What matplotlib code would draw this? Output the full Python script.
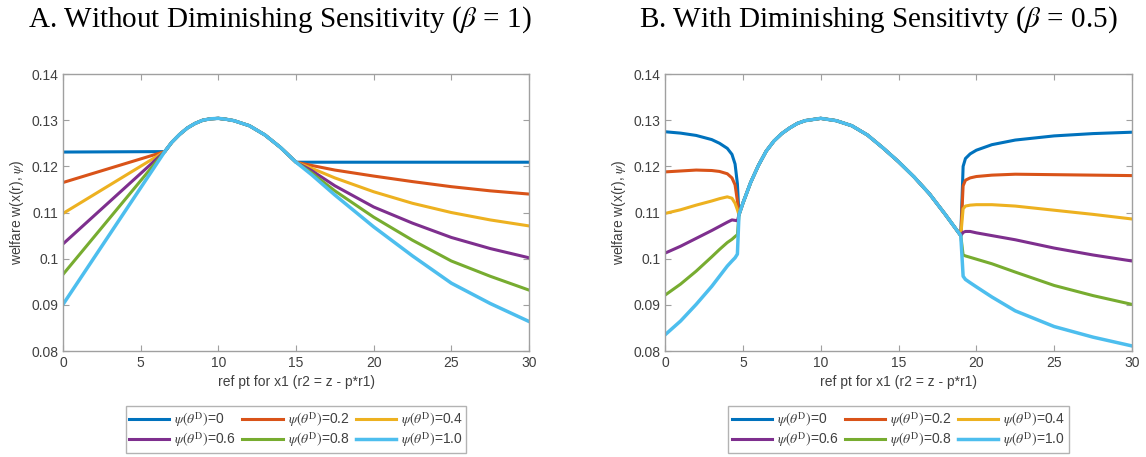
import numpy as np
import matplotlib.pyplot as plt
from matplotlib.ticker import FuncFormatter

plt.rcParams['font.family'] = ['Liberation Sans', 'DejaVu Sans']
plt.rcParams['mathtext.fontset'] = 'stix'

psi_labels = ['0', '0.2', '0.4', '0.6', '0.8', '1.0']
colors = ['#0072BD', '#D95319', '#EDB120', '#7E2F8E', '#77AC30', '#4DBEEE']

# ---- panel A (beta = 1) ----
a_x_left = [0.0]
a_left = [[0.1231], [0.1165], [0.1098], [0.1032], [0.0966], [0.0901]]
a_x_hump = [6.55, 7, 7.5, 8, 8.5, 9, 9.5, 10, 10.5, 11, 12, 13, 14, 15]
a_hump = [0.1232, 0.1252, 0.1269, 0.1283, 0.1293, 0.1300, 0.1303, 0.1304,
          0.1302, 0.1299, 0.1288, 0.1268, 0.1241, 0.1209]
a_x_right = [16, 17.5, 20, 22.5, 25, 27.5, 30]
a_right = [
    [0.1209, 0.1209, 0.1209, 0.1209, 0.1209, 0.1209, 0.1209],
    [0.1202, 0.1192, 0.1179, 0.1167, 0.1156, 0.1147, 0.1140],
    [0.1196, 0.1175, 0.1145, 0.1120, 0.1100, 0.1084, 0.1071],
    [0.1191, 0.1158, 0.1112, 0.1077, 0.1046, 0.1022, 0.1002],
    [0.1186, 0.1147, 0.1090, 0.1040, 0.0995, 0.0962, 0.0932],
    [0.1182, 0.1138, 0.1069, 0.1006, 0.0947, 0.0903, 0.0864],
]

# ---- panel B (beta = 0.5) ----
b_x_left = [0, 1, 2, 3, 3.5, 4, 4.3, 4.5, 4.65]
b_left = [
    [0.1275, 0.1272, 0.1267, 0.1258, 0.1250, 0.1239, 0.1226, 0.1205, 0.1162],
    [0.1188, 0.1190, 0.1192, 0.1191, 0.1189, 0.1184, 0.1175, 0.1160, 0.1125],
    [0.1098, 0.1106, 0.1116, 0.1125, 0.1130, 0.1134, 0.1131, 0.1120, 0.1106],
    [0.1012, 0.1027, 0.1044, 0.1061, 0.1070, 0.1079, 0.1084, 0.1083, 0.1082],
    [0.0921, 0.0945, 0.0973, 0.1004, 0.1020, 0.1035, 0.1042, 0.1048, 0.1052],
    [0.0835, 0.0865, 0.0901, 0.0940, 0.0962, 0.0984, 0.0995, 0.1002, 0.1010],
]
b_x_hump = [4.75, 5, 5.5, 6, 6.5, 7, 7.5, 8, 8.5, 9, 10, 11, 12, 13, 14,
            15, 16, 17, 18, 19]
b_hump = [0.1095, 0.1120, 0.1165, 0.1202, 0.1233, 0.1255, 0.1271, 0.1283,
          0.1293, 0.1299, 0.1304, 0.1299, 0.1288, 0.1268, 0.1240, 0.1210,
          0.1177, 0.1140, 0.1096, 0.1050]
b_x_right = [19.15, 19.3, 19.6, 20, 21, 22.5, 25, 27.5, 30]
b_right = [
    [0.1200, 0.1217, 0.1227, 0.1235, 0.1247, 0.1257, 0.1266, 0.1271, 0.1274],
    [0.1158, 0.1170, 0.1175, 0.1178, 0.1181, 0.1183, 0.1182, 0.1181, 0.1180],
    [0.1108, 0.1114, 0.1116, 0.1117, 0.1117, 0.1114, 0.1105, 0.1096, 0.1086],
    [0.1057, 0.1059, 0.1059, 0.1056, 0.1050, 0.1041, 0.1023, 0.1008, 0.0995],
    [0.1008, 0.1006, 0.1003, 0.0999, 0.0989, 0.0971, 0.0942, 0.0920, 0.0901],
    [0.0962, 0.0955, 0.0948, 0.0939, 0.0917, 0.0887, 0.0853, 0.0830, 0.0811],
]

fig = plt.figure(figsize=(11.46, 4.57), dpi=100)
axA = fig.add_axes([0.0550, 0.2319, 0.4066, 0.6061])
axB = fig.add_axes([0.5803, 0.2319, 0.4075, 0.6061])


def draw(ax, xl, left, xh, hump, xr, right):
    handles = []
    for i in range(6):
        x = list(xl) + list(xh) + list(xr)
        y = list(left[i]) + list(hump) + list(right[i])
        h, = ax.plot(x, y, color=colors[i], lw=2.5 if i == 5 else 2.2,
                     label=r'$\psi(\theta^{\mathrm{D}})$=' + psi_labels[i])
        handles.append(h)
    ax.set_xlim(0, 30)
    ax.set_ylim(0.08, 0.14)
    ax.set_xticks(range(0, 31, 5))
    ax.set_yticks([0.08, 0.09, 0.10, 0.11, 0.12, 0.13, 0.14])
    ax.yaxis.set_major_formatter(FuncFormatter(lambda v, p: '%g' % round(v, 2)))
    ax.tick_params(direction='in', top=True, right=True, length=4,
                   color='#a0a0a0', labelcolor='#404040', labelsize=10)
    for s in ax.spines.values():
        s.set_color('#a0a0a0')
        s.set_linewidth(1.0)
    ax.set_xlabel('ref pt for x1 (r2 = z - p*r1)', fontsize=10, color='#404040')
    ax.set_ylabel(r'welfare w(x(r), $\psi$)', fontsize=10, color='#404040')
    # legend fills row by row, matplotlib fills columns -> reorder
    order = [0, 3, 1, 4, 2, 5]
    leg = ax.legend([handles[k] for k in order],
                    [handles[k].get_label() for k in order],
                    loc='upper center', bbox_to_anchor=(0.5, -0.2), ncol=3,
                    fontsize=10, handlelength=2.9, fancybox=False,
                    edgecolor='#a0a0a0', columnspacing=0.45, handletextpad=0.35,
                    borderpad=0.25, labelspacing=0.12, borderaxespad=0,
                    labelcolor='#404040')
    leg.get_frame().set_linewidth(1.0)


draw(axA, a_x_left, a_left, a_x_hump, a_hump, a_x_right, a_right)
draw(axB, b_x_left, b_left, b_x_hump, b_hump, b_x_right, b_right)

fig.text(0.2443, 0.957, r'A. Without Diminishing Sensitivity ($\beta$ = 1)',
         ha='center', va='center', fontsize=21, family='Liberation Serif')
fig.text(0.766, 0.957, r'B. With Diminishing Sensitivty ($\beta$ = 0.5)',
         ha='center', va='center', fontsize=21, family='Liberation Serif')

fig.savefig('out.png', dpi=100)
